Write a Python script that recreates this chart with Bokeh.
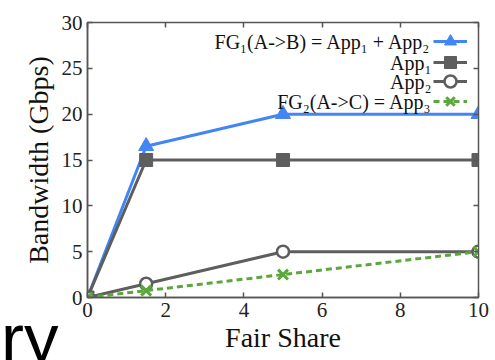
from bokeh.plotting import figure
from bokeh.layouts import column
from bokeh.models import (Range1d, LinearAxis, FixedTicker, Legend, LegendItem, Label, Div)
from bokeh.embed import file_html
from bokeh.resources import INLINE

# ---- data ----
fair_share = [0, 1.5, 5, 10]
fg1 = [0, 16.5, 20, 20]      # FG1(A->B) = App1 + App2
app1 = [0, 15, 15, 15]
app2 = [0, 1.5, 5, 5]
fg2 = [0, 0.75, 2.5, 5]      # FG2(A->C) = App3
x_ticks = [0, 2, 4, 6, 8, 10]
y_ticks = [0, 5, 10, 15, 20, 25, 30]
labels = ["FG\u2081(A->B) = App\u2081 + App\u2082", "App\u2081", "App\u2082",
          "FG\u2082(A->C) = App\u2083"]

BLUE = "#4285f4"
GRAY = "#5e5e5e"
GREEN = "#5aa83c"
FONT = "Liberation Serif"
AX = "#555555"

p = figure(width=495, height=360, output_backend="svg", toolbar_location=None,
           x_range=Range1d(0, 10), y_range=Range1d(0, 30),
           min_border_left=87, min_border_right=17, min_border_top=22, min_border_bottom=63)
p.background_fill_color = "white"
p.border_fill_color = "white"
p.outline_line_color = AX
p.outline_line_width = 1.5
p.xgrid.visible = False
p.ygrid.visible = False

for ax, tk in ((p.xaxis[0], x_ticks), (p.yaxis[0], y_ticks)):
    ax.ticker = FixedTicker(ticks=tk)
    ax.major_tick_in = 5
    ax.major_tick_out = 0
    ax.minor_tick_line_color = None
    ax.major_tick_line_color = AX
    ax.major_tick_line_width = 1.5
    ax.axis_line_color = AX
    ax.axis_line_width = 1.5
    ax.major_label_text_font = FONT
    ax.major_label_text_font_size = "21px"
    ax.major_label_text_color = "#222222"
    ax.axis_label_text_font = FONT
    ax.axis_label_text_font_size = "28px"
    ax.axis_label_text_font_style = "normal"
    ax.axis_label_text_color = "#111111"

p.xaxis.axis_label = "Fair Share"
p.yaxis.axis_label = "Bandwidth (Gbps)"
p.xaxis.major_label_standoff = 5
p.xaxis.axis_label_standoff = 2
p.yaxis.major_label_standoff = 5
p.yaxis.axis_label_standoff = 5

top = LinearAxis(ticker=FixedTicker(ticks=x_ticks), major_label_text_font_size="0px",
                 major_label_standoff=0, major_tick_in=5, major_tick_out=0,
                 minor_tick_line_color=None, major_tick_line_color=AX,
                 major_tick_line_width=1.5, axis_line_color=AX)
right = LinearAxis(ticker=FixedTicker(ticks=y_ticks), major_label_text_font_size="0px",
                   major_label_standoff=0, major_tick_in=5, major_tick_out=0,
                   minor_tick_line_color=None, major_tick_line_color=AX,
                   major_tick_line_width=1.5, axis_line_color=AX)
p.add_layout(top, "above")
p.add_layout(right, "right")

# ---- series ----
l1 = p.line(fair_share, fg1, line_color=BLUE, line_width=3)
m1 = p.scatter(fair_share, fg1, marker="triangle", size=15, fill_color=BLUE, line_color=BLUE)
l2 = p.line(fair_share, app1, line_color=GRAY, line_width=3)
m2 = p.scatter(fair_share, app1, marker="square", size=13, fill_color=GRAY, line_color=GRAY)
l3 = p.line(fair_share, app2, line_color=GRAY, line_width=3)
m3 = p.scatter(fair_share, app2, marker="circle", size=12, fill_color="white",
               line_color=GRAY, line_width=2.5)
l4 = p.line(fair_share, fg2, line_color=GREEN, line_width=3, line_dash="6 4")
m4 = p.scatter(fair_share, fg2, marker="x", size=14, line_color=GREEN, line_width=3)

# ---- legend: text on the left, sample on the right ----
row_y = [256, 235, 216, 196]   # row centres, px above the frame bottom
for rends, txt, yy in zip([(l1, m1), (l2, m2), (l3, m3), (l4, m4)], labels, row_y):
    lg = Legend(items=[LegendItem(label=" ", renderers=list(rends))],
                location=(346, yy - 15), glyph_width=34, glyph_height=30,
                padding=0, margin=0, label_standoff=0, label_width=0, label_height=0,
                label_text_font_size="1px", border_line_color=None,
                background_fill_alpha=0)
    p.add_layout(lg, "center")
    p.add_layout(Label(x=344, y=yy, x_units="screen", y_units="screen", text=txt,
                       text_align="right", text_baseline="middle",
                       text_font=FONT, text_font_size="20px", text_color="#111111"))

# stray cropped slide text visible at the reference's lower-left corner
stray = Div(text="ry", width=70, height=80,
            styles={"position": "absolute", "left": "-4px", "top": "299px",
                    "font-family": "Liberation Sans", "font-size": "69px",
                    "line-height": "1", "color": "black", "z-index": "10",
                    "overflow": "visible"})

layout = column(p, stray)
open("out.html", "w").write(file_html(layout, INLINE))
